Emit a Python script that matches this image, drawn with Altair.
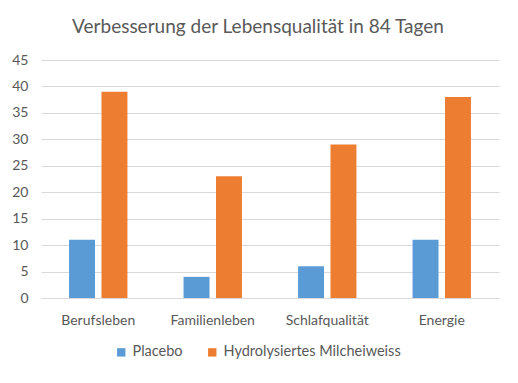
import altair as alt
import pandas as pd

categories = ["Berufsleben", "Familienleben", "Schlafqualität", "Energie"]
series = ["Placebo", "Hydrolysiertes Milcheiweiss"]
placebo = [11, 4, 6, 11]
milcheiweiss = [39, 23, 29, 38]
colors = ["#5B9BD5", "#ED7D31"]

rows = []
for c, p, m in zip(categories, placebo, milcheiweiss):
    rows.append({"Kategorie": c, "Serie": series[0], "Wert": p})
    rows.append({"Kategorie": c, "Serie": series[1], "Wert": m})
df = pd.DataFrame(rows)

font = "Lato"
gray = "#595959"

chart = alt.Chart(df).mark_bar().encode(
    x=alt.X("Kategorie:N", sort=categories,
            scale=alt.Scale(paddingInner=0.49, paddingOuter=0.245),
            axis=alt.Axis(title=None, labelAngle=0, ticks=False, domain=True,
                          domainColor="#d9d9d9", labelPadding=15,
                          labelFontSize=14, labelColor=gray, labelFont=font)),
    xOffset=alt.XOffset("Serie:N", sort=series, scale=alt.Scale(paddingInner=0.2)),
    y=alt.Y("Wert:Q",
            scale=alt.Scale(domain=[0, 45], nice=False),
            axis=alt.Axis(title=None, values=list(range(0, 50, 5)), ticks=False,
                          domain=False, gridColor="#d9d9d9", labelPadding=13,
                          labelFontSize=14, labelColor=gray, labelFont=font)),
    color=alt.Color("Serie:N", sort=series,
                    scale=alt.Scale(domain=series, range=colors),
                    legend=alt.Legend(title=None, orient="none", direction="horizontal",
                                      legendX=73, legendY=285,
                                      symbolType="square", symbolSize=70,
                                      symbolStrokeWidth=0, labelLimit=400,
                                      labelFontSize=14.5, labelColor=gray, labelFont=font,
                                      columnPadding=22)),
).properties(
    width=458, height=238,
    title=alt.Title("Verbesserung der Lebensqualität in 84 Tagen",
                    fontSize=19, font=font, fontWeight="normal", color=gray,
                    anchor="middle", offset=16, dx=-12),
    autosize=alt.AutoSizeParams(type="none"),
    padding={"left": 33, "top": 52, "right": 11, "bottom": 77},
).configure_view(stroke=None)

chart.save("out.html", embed_options={"renderer": "svg", "actions": False})
